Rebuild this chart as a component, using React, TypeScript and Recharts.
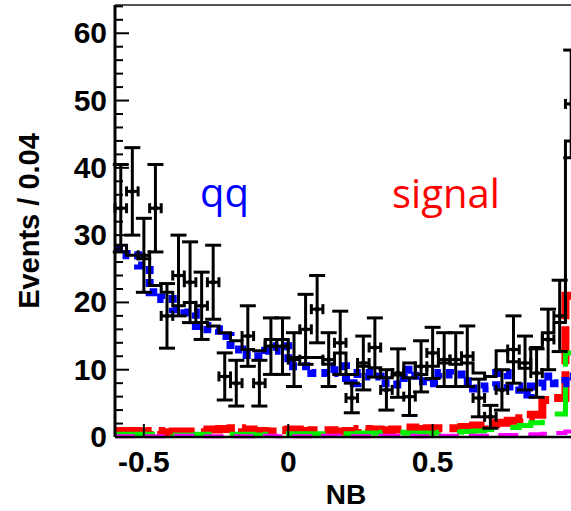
import React from "react"
import {
  ComposedChart,
  Line,
  Scatter,
  ErrorBar,
  XAxis,
  YAxis,
  ReferenceLine,
  Label,
} from "recharts"

// NB bins, 0.04 wide (centres)
const binCenters = [
  -0.58, -0.54, -0.5, -0.46, -0.42, -0.38, -0.34, -0.3, -0.26, -0.22,
  -0.18, -0.14, -0.1, -0.06, -0.02, 0.02, 0.06, 0.1, 0.14, 0.18,
  0.22, 0.26, 0.3, 0.34, 0.38, 0.42, 0.46, 0.5, 0.54, 0.58,
  0.62, 0.66, 0.7, 0.74, 0.78, 0.82, 0.86, 0.9, 0.94, 0.98,
]
const binHalfWidth = 0.02

// data points and their errors
const dataEvents = [
  34, 36.5, 27, 34, 18, 24, 23, 19.5, 23, 9,
  8, 15, 8, 13.5, 13.5, 11.5, 16, 19, 11.5, 14,
  5.8, 11, 13.3, 7, 9.5, 6, 10.5, 12.5, 11.5, 11.5,
  12, 5.8, 3, 7, 13, 11, 9.5, 14.5, 18, 49.5,
]
const dataErrors = [
  6.5, 6.5, 5.5, 6.5, 4.8, 6, 6, 5, 5.5, 3.5,
  3.4, 4.5, 3.4, 4.2, 4.2, 4, 5.2, 5, 4, 4.7,
  2.2, 4, 4.4, 3, 3.6, 2.8, 3.8, 3.8, 4, 4,
  4.5, 2.8, 1.7, 3, 5, 4, 3.6, 4.5, 5.3, 8,
]

// fit components
const totalFit = [
  28.5, 27, 26.5, 22.5, 21.5, 19.5, 20, 17, 16.5, 15.5,
  14.3, 13, 12.8, 14.5, 14.5, 11.8, 11.8, 11.8, 10.8, 12.5,
  9.3, 10.5, 10.3, 8.8, 9.2, 11, 9.3, 10.5, 11, 10.8,
  11, 9.5, 9, 12.8, 11.2, 10.2, 13.3, 15.5, 17, 44,
]
const qqBackground = [
  28, 27, 25.5, 21.5, 20.5, 19, 18.5, 16.5, 16, 15,
  13, 12.2, 12, 12.8, 13.5, 10.5, 10.5, 9.5, 9.5, 10.5,
  8, 9.5, 9, 8, 7.8, 10, 8.3, 8, 9.5, 9.3,
  8.3, 7.2, 7.5, 9.5, 7.5, 6.3, 7.5, 9, 8, 9,
]
const signalFit = [
  0.9, 0.9, 0.8, 0.9, 0.7, 0.8, 0.8, 0.7, 1.1, 1.2,
  1.3, 1.1, 0.9, 0.8, 1, 1.1, 0.9, 1, 1, 0.8,
  0.9, 1.2, 1.1, 1, 1.1, 1.4, 1.2, 1.3, 1.3, 1.3,
  1.5, 1.7, 1.9, 2.1, 2.4, 2.8, 3.3, 5.5, 5.8, 21,
]
const greenFit = [
  0.4, 0.4, 0.4, 0.4, 0.4, 0.3, 0.3, 0.4, 0.4, 0.4,
  0.4, 0.4, 0.3, 0.4, 0.4, 0.5, 0.5, 0.5, 0.5, 0.5,
  0.5, 0.6, 0.6, 0.7, 0.7, 0.6, 0.6, 0.6, 0.7, 0.7,
  0.8, 0.9, 1.1, 1.2, 1.4, 1.7, 2.1, 2.8, 3.4, 12.5,
]
const magentaFit = [
  0.1, 0.1, 0.1, 0.1, 0.1, 0.2, 0.2, 0.1, 0.1, 0.1,
  0.1, 0.1, 0.2, 0.2, 0.1, 0.1, 0.1, 0.1, 0.2, 0.2,
  0.1, 0.1, 0.1, 0.2, 0.2, 0.2, 0.1, 0.1, 0.2, 0.2,
  0.2, 0.2, 0.2, 0.3, 0.3, 0.3, 0.4, 0.5, 0.6, 0.8,
]

const xTicks = [-0.5, 0, 0.5]
const yTicks = [
  0, 2, 4, 6, 8, 10, 12, 14, 16, 18, 20, 22, 24, 26, 28, 30, 32,
  34, 36, 38, 40, 42, 44, 46, 48, 50, 52, 54, 56, 58, 60, 62, 64,
]

const AXIS_FONT = '"Liberation Sans", Arial, Helvetica, sans-serif'
const TEXT_FONT = '"Open Sans", "Noto Sans", sans-serif'

// step histogram: a point on every left bin edge plus the closing right edge
function toSteps(values: number[]) {
  const pts = binCenters.map((c, i) => ({ x: +(c - binHalfWidth).toFixed(2), v: values[i] }))
  const last = binCenters.length - 1
  pts.push({ x: +(binCenters[last] + binHalfWidth).toFixed(2), v: values[last] })
  return pts
}

const points = binCenters.map((c, i) => ({
  x: c,
  y: dataEvents[i],
  ey: dataErrors[i],
  ex: binHalfWidth,
}))

function YTick(props: any) {
  const { x, y, payload } = props
  const major = payload.value % 10 === 0
  return (
    <g>
      <line x1={x} x2={x + (major ? 14 : 8)} y1={y} y2={y} stroke="#000" strokeWidth={2} />
      {major && (
        <text
          x={x - 8}
          y={y}
          dy={10}
          textAnchor="end"
          fontFamily={AXIS_FONT}
          fontWeight="bold"
          fontSize={30}
          fill="#000"
        >
          {payload.value}
        </text>
      )}
    </g>
  )
}

function XTick(props: any) {
  const { x, y, payload } = props
  return (
    <g>
      <line x1={x} x2={x} y1={y} y2={y - 13} stroke="#000" strokeWidth={2} />
      <text
        x={x}
        y={y + 35}
        textAnchor="middle"
        fontFamily={AXIS_FONT}
        fontWeight="bold"
        fontSize={30}
        fill="#000"
      >
        {payload.value}
      </text>
    </g>
  )
}

export default function App() {
  return (
    <div
      style={{
        position: "fixed",
        left: 0,
        top: 0,
        width: 571,
        height: 511,
        overflow: "hidden",
        background: "#fff",
      }}
    >
      <ComposedChart width={577} height={511} margin={{ top: 5, right: 0, bottom: 0, left: 0 }}>
        <XAxis
          type="number"
          dataKey="x"
          domain={[-0.6, 1.0]}
          ticks={xTicks}
          tick={<XTick />}
          tickSize={0}
          tickMargin={0}
          tickLine={false}
          height={74}
          axisLine={{ stroke: "#000", strokeWidth: 2.5 }}
        >
          <Label
            content={(p: any) => (
              <text
                x={p.viewBox.x + p.viewBox.width / 2}
                y={p.viewBox.y + 67}
                textAnchor="middle"
                fontFamily={AXIS_FONT}
                fontWeight="bold"
                fontSize={28}
                fill="#000"
              >
                NB
              </text>
            )}
          />
        </XAxis>
        <YAxis
          type="number"
          domain={[0, 64.2]}
          ticks={yTicks}
          interval={0}
          tick={<YTick />}
          tickSize={0}
          tickMargin={0}
          tickLine={false}
          width={115}
          axisLine={{ stroke: "#000", strokeWidth: 3 }}
        >
          <Label
            content={(p: any) => {
              const cx = p.viewBox.x + 39
              const cy = p.viewBox.y + p.viewBox.height / 2
              return (
                <text
                  x={cx}
                  y={cy}
                  transform={`rotate(-90 ${cx} ${cy})`}
                  textAnchor="middle"
                  fontFamily={AXIS_FONT}
                  fontWeight="bold"
                  fontSize={29}
                  fill="#000"
                >
                  Events / 0.04
                </text>
              )
            }}
          />
        </YAxis>
        <ReferenceLine y={64.2} stroke="#555" strokeWidth={2} />

        <Line data={toSteps(signalFit)} dataKey="v" type="stepAfter" stroke="#ff0000" strokeWidth={8} strokeDasharray="38 7" dot={false} activeDot={false} isAnimationActive={false} />
        <Line data={toSteps(greenFit)} dataKey="v" type="stepAfter" stroke="#00ee00" strokeWidth={5} strokeDasharray="40 18" dot={false} activeDot={false} isAnimationActive={false} />
        <Line data={toSteps(magentaFit)} dataKey="v" type="stepAfter" stroke="#ff00ff" strokeWidth={4} strokeDasharray="20 10" dot={false} activeDot={false} isAnimationActive={false} />
        <Line data={toSteps(qqBackground)} dataKey="v" type="stepAfter" stroke="#0000ff" strokeWidth={8} strokeDasharray="8 5" dot={false} activeDot={false} isAnimationActive={false} />
        <Line data={toSteps(totalFit)} dataKey="v" type="stepAfter" stroke="#000" strokeWidth={3} dot={false} activeDot={false} isAnimationActive={false} />

        <Scatter
          data={points}
          dataKey="y"
          fill="#000"
          isAnimationActive={false}
          shape={(p: any) => <circle cx={p.cx} cy={p.cy} r={2.5} fill="#000" />}
        >
          <ErrorBar dataKey="ey" direction="y" width={8} stroke="#000" strokeWidth={3} />
          <ErrorBar dataKey="ex" direction="x" width={5} stroke="#000" strokeWidth={3} />
        </Scatter>
      </ComposedChart>

      <svg width={571} height={511} style={{ position: "absolute", left: 0, top: 0, pointerEvents: "none" }}>
        <text x={200} y={207} fontFamily={TEXT_FONT} fontSize={40} fill="#0000ff">
          qq
        </text>
        <text x={392} y={208} fontFamily={TEXT_FONT} fontSize={40} fill="#ff0000">
          signal
        </text>
      </svg>
    </div>
  )
}
